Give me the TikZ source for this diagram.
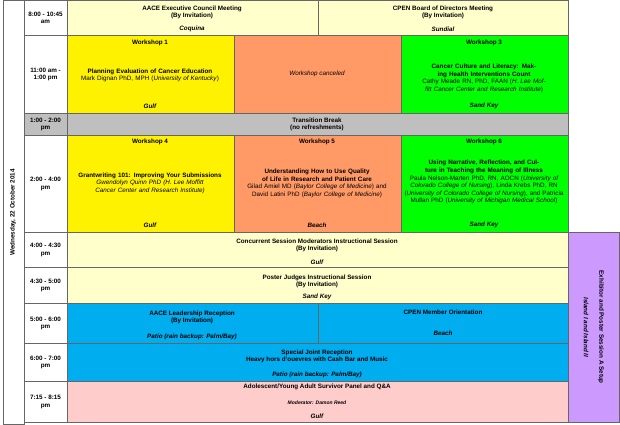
\documentclass[tikz,border=0pt]{standalone}
\usepackage{fontspec}
\setmainfont{Liberation Sans}
\begin{document}
\begin{tikzpicture}[x=1pt,y=-1pt,
  cell/.style={draw=black!60,line width=0.6pt},
  txt/.style={align=center,font=\fontsize{6.3}{7.6}\selectfont,inner sep=0pt},
  tm/.style={txt,font=\fontsize{6.3}{7.6}\selectfont\bfseries},
  rm/.style={txt,font=\fontsize{6.3}{7.6}\selectfont\bfseries\itshape}]
\definecolor{cream}{HTML}{FFFFCC}
\definecolor{orng}{HTML}{FF9966}
\definecolor{pink}{HTML}{FFCCCC}
\definecolor{lil}{HTML}{CC99FF}
\fill[white] (0,0) rectangle (620,424);
% day column
\draw[cell,fill=white] (3,0) rectangle (24,424);
\node[tm,rotate=90] (day) at (13,212) {Wednesday, 22 October 2014};
% time column
\foreach \a/\b/\t in {0/35/{8:00 - 10:45\\am},35/113/{11:00 am -\\1:00 pm},135/232/{2:00 - 4:00\\pm},232/267/{4:00 - 4:30\\pm},267/303/{4:30 - 5:00\\pm},303/343/{5:00 - 6:00\\pm},343/381/{6:00 - 7:00\\pm},381/422/{7:15 - 8:15\\pm}}{
  \draw[cell,fill=white] (24,\a) rectangle (67,\b);
  \node[tm] at (45.5,{(\a+\b)/2}) {\t};}
\draw[cell,fill=black!25] (24,113) rectangle (67,135);
\node[tm] (t3) at (45.5,124) {1:00 - 2:00\\pm};
% row 1
\draw[cell,fill=cream] (67,0) rectangle (318,35);
\draw[cell,fill=cream] (318,0) rectangle (568,35);
\node[tm] (a1) at (192,12) {AACE Executive Council Meeting\\(By Invitation)};
\node[rm] (a1r) at (192,29) {Coquina};
\node[tm] (a2) at (443,12) {CPEN Board of Directors Meeting\\(By Invitation)};
\node[rm] (a2r) at (443,29) {Sundial};
% row 2
\draw[cell,fill=yellow] (67,35) rectangle (234,113);
\draw[cell,fill=orng] (234,35) rectangle (401,113);
\draw[cell,fill=green] (401,35) rectangle (568,113);
\node[tm] (w1) at (150,43) {Workshop 1};
\node[txt,text width=160] (w1t) at (150,75) {\textbf{Planning Evaluation of Cancer Education}\\Mark Dignan PhD, MPH (\textit{University of Kentucky})};
\node[rm] (w1r) at (150,106) {Gulf};
\node[txt,font=\fontsize{6.3}{7.6}\selectfont\itshape] (w2) at (317,74) {Workshop canceled};
\node[tm] (w3) at (484,43) {Workshop 3};
\node[txt,text width=160] (w3t) at (484,78) {\textbf{Cancer Culture and Literacy: Making Health Interventions Count}\\Cathy Meade RN, PhD, FAAN (\textit{H. Lee Moffitt Cancer Center and Research Institute})};
\node[rm] (w3r) at (484,106) {Sand Key};
% transition
\draw[cell,fill=black!25] (67,113) rectangle (568,135);
\node[tm] (tb) at (317,124) {Transition Break\\(no refreshments)};
% row 4
\draw[cell,fill=yellow] (67,135) rectangle (234,232);
\draw[cell,fill=orng] (234,135) rectangle (401,232);
\draw[cell,fill=green] (401,135) rectangle (568,232);
\node[tm] (w4) at (150,142) {Workshop 4};
\node[txt,text width=163] (w4t) at (150,183) {\textbf{Grantwriting 101: Improving Your Submissions}\\\textit{Gwendolyn Quinn PhD (H. Lee Moffitt Cancer Center and Research Institute)}};
\node[rm] (w4r) at (150,225) {Gulf};
\node[tm] (w5) at (317,142) {Workshop 5};
\node[txt,text width=163] (w5t) at (317,183) {\textbf{Understanding How to Use Quality of Life in Research and Patient Care}\\Gilad Amiel MD (\textit{Baylor College of Medicine}) and David Latini PhD (\textit{Baylor College of Medicine})};
\node[rm] (w5r) at (317,225) {Beach};
\node[tm] (w6) at (484,142) {Workshop 6};
\node[txt,text width=163] (w6t) at (484,182) {\textbf{Using Narrative, Reflection, and Culture in Teaching the Meaning of Illness}\\Paula Nelson-Marten PhD, RN, AOCN (\textit{University of Colorado College of Nursing}), Linda Krebs PhD, RN (\textit{University of Colorado College of Nursing}), and Patricia Mullan PhD (\textit{University of Michigan Medical School})};
\node[rm] (w6r) at (484,225) {Sand Key};
% 4:00
\draw[cell,fill=cream] (67,232) rectangle (568,267);
\node[tm] (c1) at (317,245) {Concurrent Session Moderators Instructional Session\\(By Invitation)};
\node[rm] (c1r) at (317,262) {Gulf};
\draw[cell,fill=cream] (67,267) rectangle (568,303);
\node[tm] (c2) at (317,281) {Poster Judges Instructional Session\\(By Invitation)};
\node[rm] (c2r) at (317,297) {Sand Key};
% 5:00
\draw[cell,fill=cyan] (67,303) rectangle (318,343);
\draw[cell,fill=cyan] (318,303) rectangle (568,343);
\node[tm] (r1) at (192,317) {AACE Leadership Reception\\(By Invitation)};
\node[rm] (r1r) at (192,337) {Patio (rain backup: Palm/Bay)};
\node[tm] (r2) at (443,312) {CPEN Member Orientation};
\node[rm] (r2r) at (443,333) {Beach};
\draw[cell,fill=cyan] (67,343) rectangle (568,381);
\node[tm] (s1) at (317,356) {Special Joint Reception\\Heavy hors d'ouevres with Cash Bar and Music};
\node[rm] (s1r) at (317,375) {Patio (rain backup: Palm/Bay)};
\draw[cell,fill=pink] (67,381) rectangle (568,422);
\node[tm] (p1) at (317,387) {Adolescent/Young Adult Survivor Panel and Q\&A};
\node[txt,font=\fontsize{5}{6}\selectfont\bfseries\itshape] (p1m) at (317,402) {Moderator: Damon Reed};
\node[rm] (p1r) at (317,416) {Gulf};
% purple
\draw[cell,fill=lil] (568,232) rectangle (619,422);
\node[tm,rotate=-90] (ex) at (601,327) {Exhibitor and Poster Session A Setup};
\node[rm,rotate=-90] (exr) at (586,327) {Island I and Island II};
\end{tikzpicture}
\end{document}
